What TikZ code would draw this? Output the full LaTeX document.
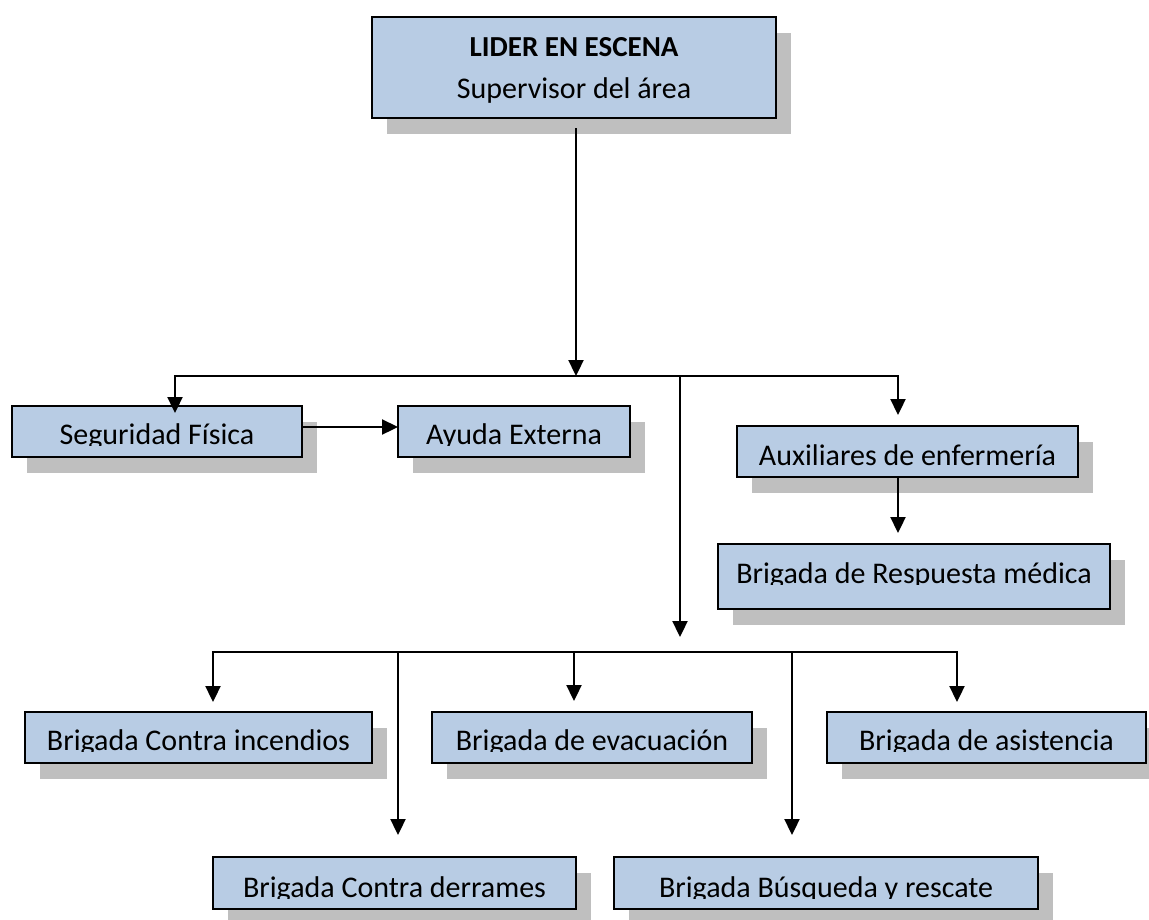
\documentclass[tikz,border=0pt]{standalone}
\usepackage{fontspec}
\setmainfont{Carlito}
\usetikzlibrary{arrows.meta,shadows}
\definecolor{boxblue}{HTML}{B8CCE4}
\definecolor{shadowgray}{HTML}{BFBFBF}
\tikzset{
  box/.style={draw=black, line width=1.8pt, fill=boxblue, inner sep=0pt, outer sep=0pt,
    drop shadow={shadow xshift=15pt, shadow yshift=-16pt, fill=shadowgray, opacity=1, draw=none}},
  lbl/.style={font=\fontsize{30}{36}\selectfont, inner sep=0pt, anchor=base},
  conn/.style={line width=2.3pt, -{Triangle[length=16pt,width=15pt]}},
  plainline/.style={line width=2.3pt},
}
% #1 name, #2 left, #3 top, #4 right, #5 bottom, #6 baseline, #7 text
\newcommand{\orgbox}[7]{%
  \node[box, minimum width={#4pt-#2pt}, minimum height={#5pt-#3pt}] (#1) at ({(#2+#4)/2},{(#3+#5)/2}) {};
  \begin{scope}
    \clip (#2,#3) rectangle (#4,{#6+1});
    \node[lbl] (#1t) at ({(#2+#4)/2},#6) {#7};
  \end{scope}}
\begin{document}
\begin{tikzpicture}[x=1pt,y=-1pt]
\useasboundingbox (0,0) rectangle (1149,919);

% top box
\node[box, minimum width=404pt, minimum height=101pt] (top) at (574,67.5) {};
\node[lbl, font=\fontsize{29}{35}\selectfont\bfseries] (topa) at (574,56) {LIDER EN ESCENA};
\node[lbl] (topb) at (574,98) {Supervisor del área};

\orgbox{seg}{12}{406}{302}{457}{444}{Seguridad Física}
\orgbox{ayuda}{398}{406}{630}{457}{444}{Ayuda Externa}
\orgbox{aux}{737}{426}{1078}{477}{465}{Auxiliares de enfermería}
\orgbox{resp}{718}{544}{1110}{609}{583}{Brigada de Respuesta médica}
\orgbox{inc}{25}{712}{372}{763}{750}{Brigada Contra incendios}
\orgbox{evac}{432}{712}{752}{763}{750}{Brigada de evacuación}
\orgbox{asis}{827}{712}{1146}{763}{750}{Brigada de asistencia}
\orgbox{der}{213}{857}{576}{909}{897}{Brigada Contra derrames}
\orgbox{bus}{614}{857}{1038}{909}{897}{Brigada Búsqueda y rescate}

% junction coordinates
\coordinate (j1) at (576,376);
\coordinate (jl) at (175,376);
\coordinate (jr) at (898,376);
\coordinate (jm) at (680,376);
\coordinate (jmend) at (680,637);
\coordinate (b1) at (213,652);
\coordinate (b2) at (398,652);
\coordinate (b3) at (574,652);
\coordinate (b4) at (792,652);
\coordinate (b5) at (957,652);

% connectors
\draw[conn] ([xshift=2pt,yshift=-10pt]top.south) -- (j1);
\draw[plainline] ([xshift=-1.15pt]jl) -- ([xshift=1.15pt]jr);
\draw[conn] (jl) -- ([yshift=-7pt]seg.north -| jl);
\draw[conn] (jr) -- ([yshift=11pt]aux.north -| jr);
\draw[conn] (jm) -- (jmend);
\draw[conn] ([yshift=4.5pt]seg.east) -- ([yshift=4.5pt]ayuda.west);
\draw[conn] (aux.south -| jr) -- ([yshift=11pt]resp.north -| jr);

\draw[plainline] ([xshift=-1.15pt]b1) -- ([xshift=1.15pt]b5);
\draw[conn] (b1) -- ([yshift=10pt]inc.north -| b1);
\draw[conn] (b3) -- ([yshift=11pt]evac.north -| b3);
\draw[conn] (b5) -- ([yshift=10pt]asis.north -| b5);
\draw[conn] (b2) -- ([yshift=22pt]der.north -| b2);
\draw[conn] (b4) -- ([yshift=22pt]bus.north -| b4);
\end{tikzpicture}
\end{document}
